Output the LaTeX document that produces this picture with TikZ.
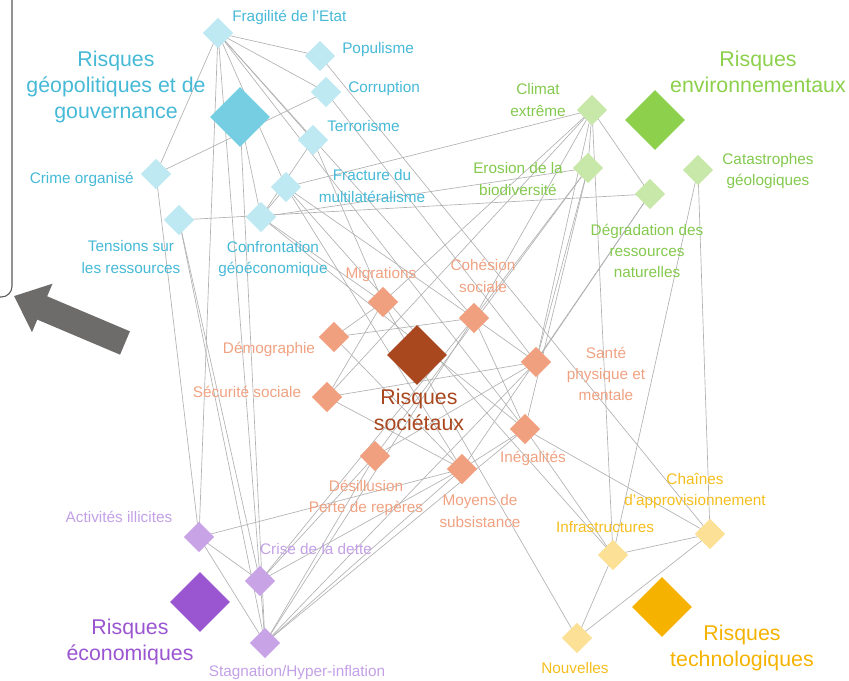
\documentclass[tikz,border=0pt]{standalone}
\usepackage{fontspec}
\setmainfont{Liberation Sans}
\usepackage{xcolor}
\usepackage{tikz}
\usetikzlibrary{arrows.meta, shapes.geometric, calc}
\definecolor{geoLight}{HTML}{BEE8F2}
\definecolor{geoDark}{HTML}{76CEE2}
\definecolor{geoText}{HTML}{46B9D7}
\definecolor{envLight}{HTML}{C8E8AA}
\definecolor{envDark}{HTML}{8CD04C}
\definecolor{envText}{HTML}{84C94E}
\definecolor{socLight}{HTML}{F0A07E}
\definecolor{socDark}{HTML}{A9471E}
\definecolor{socText}{HTML}{F0A282}
\definecolor{ecoLight}{HTML}{C8A4E6}
\definecolor{ecoDark}{HTML}{9A55D0}
\definecolor{ecoText}{HTML}{C3A0E6}
\definecolor{tecLight}{HTML}{FCE096}
\definecolor{tecDark}{HTML}{F5B300}
\definecolor{tecText}{HTML}{F5BE1E}
\definecolor{arrowGrey}{HTML}{6E6B6B}
\pgfdeclarelayer{edges}
\pgfsetlayers{edges,main}
\newcommand{\RiskNode}[4][23pt]{
	\def\lsize{#1}
	\def\lname{#2}
	\def\lpos{#3}
	\def\lfill{#4}
	\node[diamond, fill=\lfill, minimum width=\lsize, minimum height=\lsize, inner sep=0pt] (\lname) at (\lpos) {};
}
\tikzset{
	riskTxt/.style={font=\fontsize{11.5}{16}\selectfont, align=center, inner sep=0pt},
	riskTitle/.style={font=\fontsize{16}{19.5}\selectfont, align=center, inner sep=0pt},
	riskEdge/.style={draw=gray!60, line width=0.5pt}
}

\begin{document}
\begin{tikzpicture}[x=0.75pt, y=-0.75pt, line cap=round]
  \useasboundingbox (0,0) rectangle (849,681);

  % left panel and arrow
  \draw[draw=gray!70!black, line width=0.8pt, rounded corners=8pt] (-40,-40) rectangle (12,297);
  \coordinate (tail) at (125,343);
  \coordinate (tip) at (14,296);
  \draw[arrowGrey, line width=19pt, line cap=butt, -{Triangle[length=23pt, width=38pt]}] (tail) -- (tip);

  % geopolitical
  \RiskNode{frag}{218,33}{geoLight}
  \RiskNode{pop}{320,56}{geoLight}
  \RiskNode{corr}{326,92}{geoLight}
  \RiskNode{terr}{313,140}{geoLight}
  \RiskNode[45pt]{geo}{240,117}{geoDark}
  \RiskNode{crime}{156,174}{geoLight}
  \RiskNode{fract}{286,187}{geoLight}
  \RiskNode{tens}{179,220}{geoLight}
  \RiskNode{conf}{261,217}{geoLight}
  % environmental
  \RiskNode{clim}{592,110}{envLight}
  \RiskNode[45pt]{env}{655,120}{envDark}
  \RiskNode{eros}{588,168}{envLight}
  \RiskNode{cat}{698,170}{envLight}
  \RiskNode{degr}{650,194}{envLight}
  % societal
  \RiskNode{migr}{383,302}{socLight}
  \RiskNode{coh}{474,318}{socLight}
  \RiskNode{demo}{334,337}{socLight}
  \RiskNode[45pt]{soc}{417,355}{socDark}
  \RiskNode{sante}{536,362}{socLight}
  \RiskNode{secu}{327,397}{socLight}
  \RiskNode{ineg}{525,429}{socLight}
  \RiskNode{desi}{375,456}{socLight}
  \RiskNode{moy}{462,469}{socLight}
  % economic
  \RiskNode{act}{199,537}{ecoLight}
  \RiskNode{crise}{260,581}{ecoLight}
  \RiskNode[45pt]{eco}{200,602}{ecoDark}
  \RiskNode{stag}{265,643}{ecoLight}
  % technological
  \RiskNode{chain}{710,534}{tecLight}
  \RiskNode{infra}{613,555}{tecLight}
  \RiskNode{nouv}{577,638}{tecLight}
  \RiskNode[45pt]{tec}{662,607}{tecDark}

  \begin{pgfonlayer}{edges}
    \foreach \a/\b in {frag/pop, frag/corr, frag/terr, frag/crime, frag/act, frag/stag, frag/fract, frag/coh, frag/ineg,
      crime/corr, crime/act, terr/conf, terr/migr, pop/chain, corr/sante, geo/conf, geo/stag,
      tens/stag, tens/degr, tens/crise, conf/eros, conf/fract, conf/migr, conf/ineg,
      fract/clim, fract/coh, fract/moy, fract/infra,
      clim/eros, clim/degr, clim/infra, clim/coh, clim/migr, clim/secu, clim/sante,
      eros/coh, eros/sante, eros/ineg, eros/desi, degr/sante, degr/moy, cat/chain, cat/infra,
      migr/demo, migr/secu, migr/nouv, demo/coh, demo/moy, secu/sante, secu/moy,
      coh/sante, coh/ineg, coh/stag, coh/crise, sante/stag, sante/desi, ineg/moy, ineg/chain, ineg/infra, ineg/stag,
      act/moy, act/crise, act/stag, crise/desi, crise/moy, stag/desi, stag/moy,
      nouv/infra, nouv/chain, infra/chain}
      \draw[riskEdge] (\a.center) -- (\b.center);
  \end{pgfonlayer}

  % labels
  \node[riskTxt, text=geoText, anchor=west] (fragL) at (232,17) {Fragilité de l'Etat};
  \node[riskTxt, text=geoText, anchor=west] (popL) at (342,50) {Populisme};
  \node[riskTxt, text=geoText, anchor=west] (corrL) at (348,89) {Corruption};
  \node[riskTxt, text=geoText, anchor=west] (terrL) at (327,126) {Terrorisme};
  \node[riskTxt, text=geoText, anchor=east] (crimeL) at (134,179) {Crime organisé};
  \node[riskTxt, text=geoText] (fractL) at (372,186) {Fracture du\\multilatéralisme};
  \node[riskTxt, text=geoText] (tensL) at (131,257) {Tensions sur\\les ressources};
  \node[riskTxt, text=geoText] (confL) at (273,259) {Confrontation\\géoéconomique};
  \node[riskTitle, text=geoText] (geoT) at (116,87) {Risques\\géopolitiques et de\\gouvernance};

  \node[riskTxt, text=envText] (climL) at (538,100) {Climat\\extrême};
  \node[riskTxt, text=envText] (erosL) at (518,179) {Erosion de la\\biodiversité};
  \node[riskTxt, text=envText] (catL) at (768,171) {Catastrophes\\géologiques};
  \node[riskTxt, text=envText] (degrL) at (647,251) {Dégradation des\\ressources\\naturelles};
  \node[riskTitle, text=envDark] (envT) at (758,72) {Risques\\environnementaux};

  \node[riskTxt, text=socText] (migrL) at (381,275) {Migrations};
  \node[riskTxt, text=socText] (cohL) at (483,276) {Cohésion\\sociale};
  \node[riskTxt, text=socText] (demoL) at (269,349) {Démographie};
  \node[riskTxt, text=socText] (santeL) at (606,374) {Santé\\physique et\\mentale};
  \node[riskTxt, text=socText] (secuL) at (247,392) {Sécurité sociale};
  \node[riskTxt, text=socText] (inegL) at (533,458) {Inégalités};
  \node[riskTxt, text=socText] (desiL) at (366,498) {Désillusion\\Perte de repères};
  \node[riskTxt, text=socText] (moyL) at (480,511) {Moyens de\\subsistance};
  \node[riskTitle, text=socDark] (socT) at (419,410) {Risques\\sociétaux};

  \node[riskTxt, text=ecoText] (actL) at (119,517) {Activités illicites};
  \node[riskTxt, text=ecoText] (criseL) at (316,549) {Crise de la dette};
  \node[riskTxt, text=ecoText] (stagL) at (297,673) {Stagnation/Hyper-inflation};
  \node[riskTitle, text=ecoDark] (ecoT) at (130,642) {Risques\\économiques};

  \node[riskTxt, text=tecText] (chainL) at (695,491) {Chaînes\\d'approvisionnement};
  \node[riskTxt, text=tecText] (infraL) at (605,527) {Infrastructures};
  \node[riskTxt, text=tecText] (nouvL) at (575,668) {Nouvelles};
  \node[riskTitle, text=tecDark] (tecT) at (742,648) {Risques\\technologiques};

\end{tikzpicture}
\end{document}
